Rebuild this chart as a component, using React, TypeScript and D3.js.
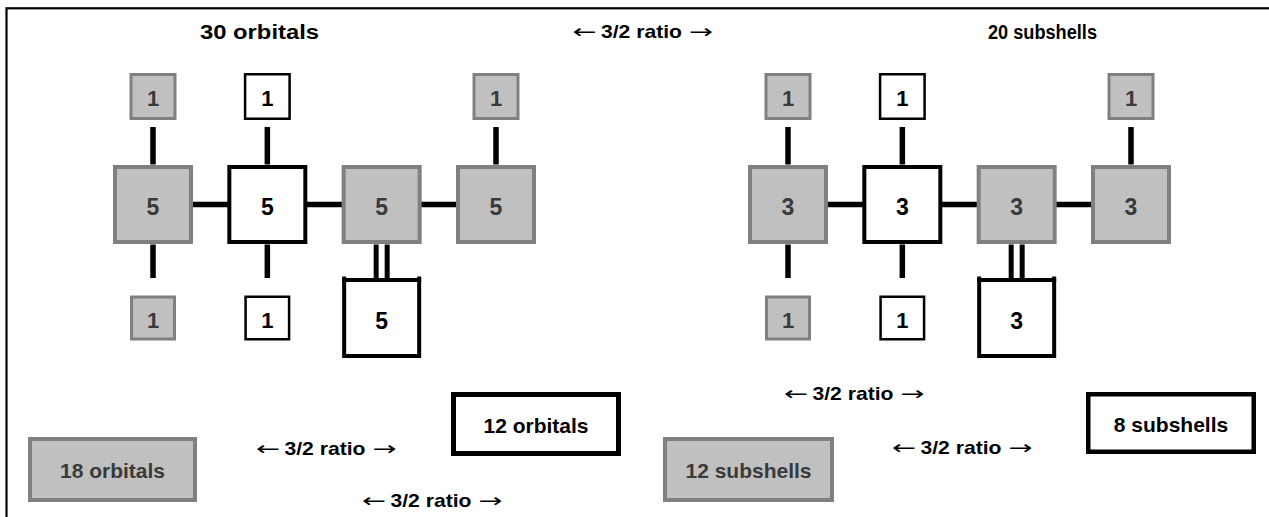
import React from "react";
import * as d3 from "d3";

// ---- data ----
const titles = ["30 orbitals", "20 subshells"];
const ratioText = "3/2 ratio";
const arrowLeft = "←";
const arrowRight = "→";
const coreTypes = ["gray", "white", "gray", "gray"];
const orbitalCore = [5, 5, 5, 5];
const subshellCore = [3, 3, 3, 3];
const topLeafCols = [0, 1, 3];
const topLeafTypes = ["gray", "white", "gray"];
const bottomLeafCols = [0, 1];
const bottomLeafTypes = ["gray", "white"];
const leafValue = 1;
const pendantCol = 2;
const orbitalPendant = 5;
const subshellPendant = 3;
const totalLabels = ["18 orbitals", "12 orbitals", "12 subshells", "8 subshells"];
const totalTypes = ["gray", "white", "gray", "white"];

const W = 1269;
const H = 517;
const FONT = "'Liberation Sans', Arial, Helvetica, sans-serif";
const GRAY_FILL = "#c0c0c0";
const GRAY_STROKE = "#808080";
const GRAY_TEXT = "#3a3a3a";

const colLeft = d3.scaleLinear().domain([0, 3]).range([153, 496]);
const colRight = d3.scaleLinear().domain([0, 3]).range([788, 1131]);
const rowY = d3
  .scaleOrdinal<string, number>()
  .domain(["top", "core", "bottom"])
  .range([96.5, 204.5, 318]);

function Box({ cx, cy, w, h, type, sw, label, fs, dy, textLength }: any) {
  const gray = type === "gray";
  return (
    <g>
      <rect
        x={cx - w / 2 + sw / 2}
        y={cy - h / 2 + sw / 2}
        width={w - sw}
        height={h - sw}
        fill={gray ? GRAY_FILL : "#fff"}
        stroke={gray ? GRAY_STROKE : "#000"}
        strokeWidth={sw}
      />
      <text
        x={cx}
        y={cy + dy}
        textAnchor="middle"
        fontFamily={FONT}
        fontWeight="bold"
        fontSize={fs}
        fill={gray ? GRAY_TEXT : "#000"}
        textLength={textLength}
        lengthAdjust={textLength ? "spacingAndGlyphs" : undefined}
      >
        {label}
      </text>
    </g>
  );
}

function Diagram({ col, core, pendant }: any) {
  const big = 80;
  const small = 47;
  const yCore = rowY("core");
  const yTop = rowY("top");
  const yBot = rowY("bottom");
  const lw = 5.5;
  return (
    <g>
      {core.slice(0, -1).map((_: number, i: number) => (
        <line key={"h" + i} x1={col(i)} x2={col(i + 1)} y1={yCore} y2={yCore} stroke="#000" strokeWidth={lw} />
      ))}
      {topLeafCols.map((c) => (
        <line key={"t" + c} x1={col(c)} x2={col(c)} y1={yTop + small / 2 + 7} y2={yCore - big / 2} stroke="#000" strokeWidth={lw} />
      ))}
      {bottomLeafCols.map((c) => (
        <line key={"b" + c} x1={col(c)} x2={col(c)} y1={yCore + big / 2} y2={yBot - big / 2} stroke="#000" strokeWidth={lw} />
      ))}
      {[-5.5, 5.5].map((d) => (
        <line key={"d" + d} x1={col(pendantCol) + d} x2={col(pendantCol) + d} y1={yCore + big / 2} y2={yBot - big / 2} stroke="#000" strokeWidth={5} />
      ))}
      {core.map((v: number, i: number) => (
        <Box key={"c" + i} cx={col(i)} cy={yCore} w={80} h={79} type={coreTypes[i]} sw={4} label={v} fs={23} dy={10.5} />
      ))}
      {topLeafCols.map((c, i) => (
        <Box key={"tl" + c} cx={col(c)} cy={yTop} w={small} h={small} type={topLeafTypes[i]}
          sw={topLeafTypes[i] === "gray" ? 3 : 2.5} label={leafValue} fs={22} dy={9.5} />
      ))}
      {bottomLeafCols.map((c, i) => (
        <Box key={"bl" + c} cx={col(c)} cy={yBot} w={46} h={45} type={bottomLeafTypes[i]}
          sw={bottomLeafTypes[i] === "gray" ? 3 : 2.5} label={leafValue} fs={22} dy={9.5} />
      ))}
      <Box cx={col(pendantCol)} cy={yBot} w={79} h={80} type="white" sw={4} label={pendant} fs={23} dy={10.5} />
      {[-1, 1].map((s) => (
        <line key={"pt" + s} x1={col(pendantCol) + s * 37.5} x2={col(pendantCol) + s * 37.5}
          y1={yBot - 41.5} y2={yBot - 36} stroke="#000" strokeWidth={4} />
      ))}
    </g>
  );
}

function Title({ x, y, text, textLength }: any) {
  return (
    <text x={x} y={y} textAnchor="middle" fontFamily={FONT} fontWeight="bold" fontSize={20}
      fill="#000" textLength={textLength} lengthAdjust="spacingAndGlyphs">
      {text}
    </text>
  );
}

function Ratio({ x, y }: any) {
  return (
    <g>
      <text x={x - 69} y={y} fontFamily="'DejaVu Sans', sans-serif" fontSize={19} fill="#000"
        textLength={24} lengthAdjust="spacingAndGlyphs">
        {arrowLeft}
      </text>
      <text x={x} y={y} textAnchor="middle" fontFamily={FONT} fontWeight="bold" fontSize={19}
        fill="#000" textLength={81} lengthAdjust="spacingAndGlyphs">
        {ratioText}
      </text>
      <text x={x + 47.5} y={y} fontFamily="'DejaVu Sans', sans-serif" fontSize={19} fill="#000"
        textLength={24} lengthAdjust="spacingAndGlyphs">
        {arrowRight}
      </text>
    </g>
  );
}

export default function App() {
  return (
    <div style={{ position: "absolute", left: 0, top: 0 }}>
      <svg width={W} height={H} style={{ display: "block", background: "#fff" }}>
        <rect x={0} y={0} width={W} height={H} fill="#fff" />
        <rect x={6.5} y={8.3} width={1400} height={700} fill="none" stroke="#000" strokeWidth={2.2} />

        <Title x={259.5} y={39} text={titles[0]} textLength={119} />
        <Ratio x={641.5} y={38} />
        <Title x={1042.5} y={39} text={titles[1]} textLength={109} />

        <Diagram col={colLeft} core={orbitalCore} pendant={orbitalPendant} />
        <Diagram col={colRight} core={subshellCore} pendant={subshellPendant} />

        <Box cx={112.5} cy={469.5} w={169} h={65} type={totalTypes[0]} sw={4} label={totalLabels[0]} fs={21} dy={8.5} />
        <Box cx={536} cy={424} w={170} h={64} type={totalTypes[1]} sw={5} label={totalLabels[1]} fs={21} dy={8.5} />
        <Box cx={748.5} cy={469.5} w={171} h={65} type={totalTypes[2]} sw={4} label={totalLabels[2]} fs={21} dy={8.5} />
        <Box cx={1171} cy={423} w={170} h={62} type={totalTypes[3]} sw={4.5} label={totalLabels[3]} fs={21} dy={8.5} />

        <Ratio x={325} y={455} />
        <Ratio x={431} y={507} />
        <Ratio x={853} y={400} />
        <Ratio x={961} y={454} />
      </svg>
    </div>
  );
}
